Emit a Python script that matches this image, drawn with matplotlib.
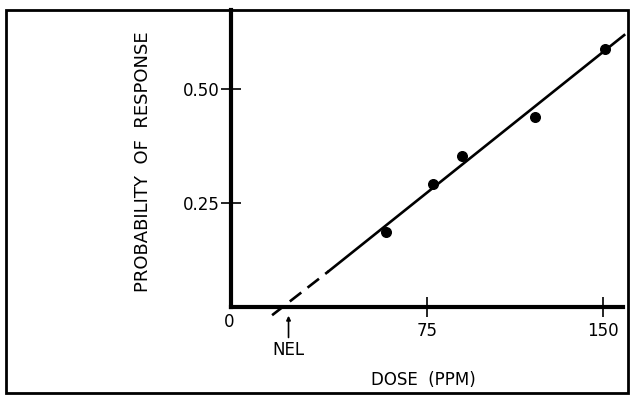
import matplotlib.pyplot as plt
from matplotlib.patches import Rectangle

# observed responses
dose = [57.5, 77.5, 90, 121, 151]
response = [0.186, 0.292, 0.353, 0.439, 0.588]

# fitted line (dashed part is the extrapolation)
fit_dose_dashed = [9, 33]
fit_resp_dashed = [0.004, 0.100]
fit_dose_solid = [33, 159]
fit_resp_solid = [0.100, 0.618]

nel_dose = 16

x_ticks = [75, 150]
x_tick_labels = ["75", "150"]
y_ticks = [0.25, 0.50]
y_tick_labels = ["0.25", "0.50"]

plt.rcParams["font.family"] = ["DejaVu Sans"]

fig = plt.figure(figsize=(6.3, 3.95), dpi=100)
ax = fig.add_axes([0.3667, 0.2228, 0.6222, 0.7519])

# outer border of the figure
fig.add_artist(Rectangle((0.0095, 0.005), 0.987, 0.970, transform=fig.transFigure,
                         fill=False, lw=2, color="black"))

ax.plot(fit_dose_dashed, fit_resp_dashed, color="black", lw=1.9,
        dashes=(5.5, 3), clip_on=False)
ax.plot(fit_dose_solid, fit_resp_solid, color="black", lw=1.9, clip_on=False)
ax.scatter(dose, response, s=48, color="black", zorder=3, clip_on=False)

ax.set(xlim=(-8.5, 158.5), ylim=(0.022, 0.673))
ax.spines["top"].set_visible(False)
ax.spines["right"].set_visible(False)
ax.spines["left"].set_linewidth(3)
ax.spines["bottom"].set_linewidth(3)

ax.set_xticks(x_ticks, x_tick_labels)
ax.set_yticks(y_ticks, y_tick_labels)
ax.tick_params(axis="both", direction="inout", length=14, width=1.2, labelsize=12)
ax.tick_params(axis="x", pad=4)
ax.tick_params(axis="y", pad=1)

ax.text(-0.005, -0.05, "0", transform=ax.transAxes, ha="center", va="center",
        fontsize=12)

# NEL marker
ax.annotate("", xy=(nel_dose, -0.02), xytext=(nel_dose, -0.112),
            xycoords=("data", "axes fraction"), textcoords=("data", "axes fraction"),
            arrowprops=dict(arrowstyle="-|>", color="black", lw=1.2,
                            mutation_scale=6))
ax.annotate("NEL", xy=(nel_dose, -0.145), xycoords=("data", "axes fraction"),
            ha="center", va="center", fontsize=12)

fig.text(423 / 630, 1 - 380 / 395, "DOSE  (PPM)", ha="center", va="center",
         fontsize=12)
fig.text(143 / 630, 1 - 162 / 395, "PROBABILITY  OF  RESPONSE", rotation=90,
         ha="center", va="center", fontsize=13)

fig.savefig("out.png", dpi=100)
